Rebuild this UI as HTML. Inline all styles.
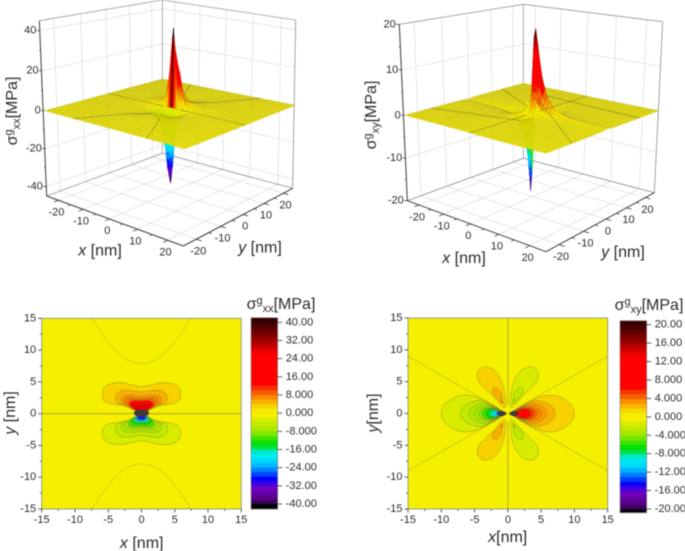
<!DOCTYPE html>
<html lang="en">
<head>
<meta charset="utf-8">
<title>Stress field charts</title>
<style>
html,body{margin:0;padding:0;background:#fff;width:685px;height:551px;overflow:hidden}
svg{display:block;filter:blur(.5px);font-family:"Liberation Sans",sans-serif}
text{fill:#2b2b2b}
</style>
</head>
<body>
<svg id="figure" xmlns="http://www.w3.org/2000/svg" width="685" height="551" viewBox="0 0 685 551">
  <defs>
    <clipPath id="clip-c"><rect x="41.7" y="318.3" width="199.6" height="190.7"/></clipPath>
    <clipPath id="clip-d"><rect x="408" y="318" width="199.7" height="191"/></clipPath>
  </defs>
  <g id="panel-a"></g>
  <g id="panel-b"></g>
  <g id="panel-c"></g>
  <g id="panel-d"></g>

  <text transform="translate(17,111) rotate(-90)" text-anchor="middle" font-size="16">σ<tspan dy="-5" font-size="11">g</tspan><tspan dy="8" font-size="11">xx</tspan><tspan dy="-3">[MPa]</tspan></text>
  <text x="100" y="255.5" text-anchor="middle" font-size="16"><tspan font-style="italic">x</tspan> [nm]</text>
  <text x="260" y="252.5" text-anchor="middle" font-size="16"><tspan font-style="italic">y</tspan> [nm]</text>

  <text transform="translate(376,115) rotate(-90)" text-anchor="middle" font-size="16">σ<tspan dy="-5" font-size="11">g</tspan><tspan dy="8" font-size="11">xy</tspan><tspan dy="-3">[MPa]</tspan></text>
  <text x="464" y="263" text-anchor="middle" font-size="16"><tspan font-style="italic">x</tspan> [nm]</text>
  <text x="623" y="257" text-anchor="middle" font-size="16"><tspan font-style="italic">y</tspan> [nm]</text>

  <text x="141.7" y="548" text-anchor="middle" font-size="16"><tspan font-style="italic">x</tspan> [nm]</text>
  <text transform="translate(15,413) rotate(-90)" text-anchor="middle" font-size="16"><tspan font-style="italic">y</tspan> [nm]</text>
  <text x="281" y="309" text-anchor="middle" font-size="16">σ<tspan dy="-5" font-size="11">g</tspan><tspan dy="8" font-size="11">xx</tspan><tspan dy="-3">[MPa]</tspan></text>

  <text x="507.7" y="542" text-anchor="middle" font-size="16"><tspan font-style="italic">x</tspan>[nm]</text>
  <text transform="translate(378,413) rotate(-90)" text-anchor="middle" font-size="16"><tspan font-style="italic">y</tspan>[nm]</text>
  <text x="649" y="310" text-anchor="middle" font-size="16">σ<tspan dy="-5" font-size="11">g</tspan><tspan dy="8" font-size="11">xy</tspan><tspan dy="-3">[MPa]</tspan></text>
</svg>

<script>
/* ---------- shared tick data ---------- */
const surfaceHorizontalTicks = [-20, -10, 0, 10, 20];
const surfaceXxZTicks = [-40, -20, 0, 20, 40];
const surfaceXyZTicks = [-20, -10, 0, 10, 20];
const contourTicks = [-15, -10, -5, 0, 5, 10, 15];
const colorbarXxLabels = ['40.00','32.00','24.00','16.00','8.000','0.000','-8.000','-16.00','-24.00','-32.00','-40.00'];
const colorbarXxValues = [40, 32, 24, 16, 8, 0, -8, -16, -24, -32, -40];
const colorbarXyLabels = ['20.00','16.00','12.00','8.000','4.000','0.000','-4.000','-8.000','-12.00','-16.00','-20.00'];
const colorbarXyValues = [20, 16, 12, 8, 4, 0, -4, -8, -12, -16, -20];

/* ---------- sigma-xx surface samples (nm, MPa) ---------- */
const surfaceXxGridX = [-25,-12,-7,-4,-2.5,-1.5,-0.75,0,0.75,1.5,2.5,4,7,12,25];
const surfaceXxGridY = [-25,-12,-7,-4,-2.5,-1.5,-0.75,-0.25,0,0.25,0.75,1.5,2.5,4,7,12,25];
const surfaceXxValues = [
 [-.02,0,.03,.05,.06,.06,.06,.06,.06,.06,.06,.05,.03,0,-.02],
 [-.03,-.12,-.15,-.05,.05,.1,.15,.15,.15,.1,.05,-.05,-.15,-.12,-.03],
 [-.03,-.18,-.6,-.95,-.8,-.5,-.35,-.25,-.35,-.5,-.8,-.95,-.6,-.18,-.03],
 [0,-.15,-.8,-2.3,-3,-3,-2.8,-2.6,-2.8,-3,-3,-2.3,-.8,-.15,0],
 [0,-.1,-.7,-3,-6,-9,-10,-10,-10,-9,-6,-3,-.7,-.1,0],
 [0,-.1,-.6,-3,-9,-18,-22,-23,-22,-18,-9,-3,-.6,-.1,0],
 [0,-.1,-.3,-1.5,-7,-20,-32,-37,-32,-20,-7,-1.5,-.3,-.1,0],
 [0,0,-.1,-.5,-2.5,-10,-30,-40,-30,-10,-2.5,-.5,-.1,0,0],
 [0,0,0,0,0,0,0,0,0,0,0,0,0,0,0],
 [0,0,.1,.5,2.5,10,26,41,26,10,2.5,.5,.1,0,0],
 [0,.1,.3,1.5,7,18,27,33,27,18,7,1.5,.3,.1,0],
 [0,.1,.8,4,9,18,22,23,22,18,9,4,.8,.1,0],
 [0,.1,1.2,4,6.5,9,10,10,10,9,6.5,4,1.2,.1,0],
 [0,.15,1.2,3,3.5,3,2.8,2.6,2.8,3,3.5,3,1.2,.15,0],
 [.03,.18,.6,.95,.8,.5,.35,.25,.35,.5,.8,.95,.6,.18,.03],
 [.03,.12,.15,.05,-.05,-.1,-.15,-.15,-.15,-.1,-.05,.05,.15,.12,.03],
 [.02,0,-.03,-.05,-.06,-.06,-.06,-.06,-.06,-.06,-.06,-.05,-.03,0,.02]
];

/* ---------- sigma-xy surface samples (nm, MPa) ---------- */
const surfaceXyGridX = [-25,-12,-7,-4,-2.5,-1.5,-0.75,-0.25,0,0.25,0.75,1.5,2.5,4,7,12,25];
const surfaceXyGridY = [-25,-12,-7,-4,-2.5,-1.5,-0.75,0,0.75,1.5,2.5,4,7,12,25];
const surfaceXyValues = [
 [.02,.05,.05,.04,.03,.02,.01,0,0,0,-.01,-.02,-.03,-.04,-.05,-.05,-.02],
 [-.01,.05,.12,.12,.1,.06,.04,.01,0,-.01,-.04,-.06,-.1,-.12,-.12,-.05,.01],
 [-.03,-.02,.06,.25,.35,.3,.15,.05,0,-.05,-.15,-.3,-.35,-.25,-.06,.02,.03],
 [-.06,-.12,-.12,.05,.4,.7,.5,.2,0,-.2,-.5,-.7,-.4,-.05,.12,.12,.06],
 [-.1,-.2,-.4,-.5,-.2,.5,.9,.7,0,-.7,-.9,-.5,.3,.6,.4,.2,.1],
 [-.15,-.35,-.7,-2,-3,-2.5,-1,.3,0,1,3,7,6.5,3.5,1,.4,.15],
 [-.2,-.5,-1,-3,-5,-9,-10,-5,0,7,15,12,8,4.5,1.4,.5,.2],
 [-.3,-.7,-1.5,-3.5,-6,-12,-18.7,-14,0,17,18.8,15.5,10.5,5.5,2,.7,.3],
 [-.2,-.5,-1,-.3,2.2,.5,-2,-5,0,7,15,12,8,4.5,1.4,.5,.2],
 [-.15,-.35,-.7,-.3,1.5,1.5,.5,.2,0,1,3,7,6.5,3.5,1,.4,.15],
 [-.1,-.2,-.4,-.5,-.2,.5,.9,.7,0,-.7,-.9,-.5,.3,.6,.4,.2,.1],
 [-.06,-.12,-.12,.05,.4,.7,.5,.2,0,-.2,-.5,-.7,-.4,-.05,.12,.12,.06],
 [-.03,-.02,.06,.25,.35,.3,.15,.05,0,-.05,-.15,-.3,-.35,-.25,-.06,.02,.03],
 [-.01,.05,.12,.12,.1,.06,.04,.01,0,-.01,-.04,-.06,-.1,-.12,-.12,-.05,.01],
 [.02,.05,.05,.04,.03,.02,.01,0,0,0,-.01,-.02,-.03,-.04,-.05,-.05,-.02]
];

/* ---------- zero-stress contours (nm) ---------- */
const zeroHyperbolaXx = [[0,7.9],[1.5,8.2],[3,9.1],[5,11.3],[7.4,15],[13,25]];
const zeroAxisXx = [[-25,0],[-3,0],[3,0],[25,0]];
const zeroRayXy = [[1.3,0.78],[15,9],[25,15]];
const zeroAxisXy = [[0,1.4],[0,25]];

/* ---------- sigma-xx contour rings: right half, upper side (nm) ---------- */
const contourXxLevelsUpper = [3, 4.8, 6, 7.2, 8.8, 16, 28];
const contourXxRingsUpper = [
 [[0,4.25],[1.5,4.55],[3.3,4.9],[5.3,4.4],[5.9,3.1],[5.3,1.8],[2.8,1.25],[1,.7],[.25,.1]],
 [[0,3.4],[2,3.7],[3.3,3.5],[3.9,2.6],[3.5,1.6],[2,1.25],[.8,.6],[.2,.1]],
 [[0,2.75],[1.5,2.95],[2.8,2.7],[3,2],[2.5,1.35],[1.5,1],[.7,.4]],
 [[0,2.45],[2,2.6],[2.55,2.1],[2.3,1.25],[1,.6]],
 [[0,2.2],[1.6,2.3],[2.1,1.8],[1.6,.9],[.7,.4]],
 [[0,2],[1.1,2.05],[1.8,1.55],[1.4,.9],[.6,.35]],
 [[0,1.4],[.8,1.5],[1.2,1.1],[.8,.5],[.3,.2]]
];
const contourXxLevelsLower = [-3, -4.8, -6, -7.2, -8.8, -10.5, -13, -16, -19, -24, -28];
const contourXxRingsLower = [
 [[0,4.25],[1.5,4.55],[3.3,4.9],[5.3,4.4],[5.9,3.1],[5.3,1.8],[2.8,1.25],[1,.7],[.25,.1]],
 [[0,3.4],[2,3.7],[3.3,3.5],[3.9,2.6],[3.5,1.6],[2,1.25],[.8,.6],[.2,.1]],
 [[0,2.75],[1.5,2.95],[2.8,2.7],[3,2],[2.5,1.35],[1.5,1],[.7,.4]],
 [[0,2.4],[1.9,2.5],[2.5,2.05],[2.2,1.25],[1,.6]],
 [[0,2.1],[1.5,2.2],[2,1.7],[1.5,.9],[.7,.4]],
 [[0,1.9],[1.3,2],[1.9,1.5],[1.5,.9],[.6,.3]],
 [[0,1.65],[1,1.7],[1.6,1.3],[1.2,.8],[.5,.3]],
 [[0,1.4],[.8,1.45],[1.3,1.05],[1,.7],[.4,.3]],
 [[0,1.2],[.7,1.2],[1.05,.85],[.8,.55],[.35,.25]],
 [[0,1.05],[.5,1.05],[.85,.7],[.35,.3]],
 [[0,.95],[.5,.9],[.6,.6],[.3,.3]]
];
const contourXxCore = [[0,.6],[.7,.55],[1.15,.15],[.8,-.35],[0,-.5]];

/* ---------- sigma-xy contour rings: lobes (upper half, right side, nm) ---------- */
const contourXyLevelsRight = [1.5, 2.4, 3, 3.6, 4.4, 5.5, 8, 13];
const contourXyRingsRight = [
 [[10,0],[9.4,1.5],[7.5,2.7],[5.5,2.8],[3.5,2],[1.8,1],[.5,.15]],
 [[7.1,0],[6.6,1.1],[5.2,1.85],[3.8,1.95],[2.5,1.3],[1.2,.6],[.4,.1]],
 [[5.85,0],[5.4,.9],[4.3,1.45],[3.2,1.5],[2,.95],[1,.45],[.4,.1]],
 [[5.1,0],[4.6,.8],[3.6,1.15],[2.6,1.1],[1.6,.7],[.8,.3]],
 [[4.4,0],[4,.7],[3.1,.95],[2.2,.85],[1.2,.45]],
 [[3.9,0],[3.5,.65],[2.7,.85],[1.9,.7],[1,.3]],
 [[3.4,0],[3,.6],[2.3,.7],[1.5,.5],[.8,.15]],
 [[2,0],[1.7,.35],[1.2,.4],[.7,.1]]
];
const contourXyLevelsLeft = [-1.5, -2.4, -3, -3.6, -4.4, -5.5, -6.6, -7.5, -8.7, -10.5, -14.5];
const contourXyRingsLeft = [
 [[10,0],[9.4,1.5],[7.5,2.7],[5.5,2.8],[3.5,2],[1.8,1],[.5,.15]],
 [[7.1,0],[6.6,1.1],[5.2,1.85],[3.8,1.95],[2.5,1.3],[1.2,.6],[.4,.1]],
 [[5.85,0],[5.4,.9],[4.3,1.45],[3.2,1.5],[2,.95],[1,.45],[.4,.1]],
 [[5.1,0],[4.6,.8],[3.6,1.15],[2.6,1.1],[1.6,.7],[.8,.3]],
 [[4.4,0],[4,.7],[3.1,.95],[2.2,.85],[1.2,.45]],
 [[3.9,0],[3.5,.65],[2.7,.85],[1.9,.7],[1,.3]],
 [[3.4,0],[3,.6],[2.3,.7],[1.5,.5],[.8,.15]],
 [[2.95,0],[2.7,.5],[2.1,.6],[1.4,.4],[.8,.15]],
 [[2.6,0],[2.35,.4],[1.9,.5],[1.2,.3],[.7,.1]],
 [[2.2,0],[1.9,.3],[1.4,.3],[.7,.1]],
 [[1.7,0],[1.4,.25],[.9,.2],[.5,.05]]
];
const contourXyCore = [[1.5,0],[1.2,.38],[.7,.38],[.2,.05]];

/* petal rings, upper-right position (nm); level sign follows the quadrant */
const contourXyPetalLevels = [1.5, 2.4, 3.4];
const contourXyPetals = [
 [[.35,1.4],[.75,4.5],[1.85,6.6],[3.35,7.3],[4.45,6.7],[4.35,5],[2.35,2.9],[.85,1.1]],
 [[.85,1.9],[1,3.2],[1.6,4],[2.2,4],[2.25,3.2],[1.35,2.1]],
 [[.7,1.5],[.8,2],[1.05,2.25],[1.12,1.8]]
];

/* ---------- colour map: normalised stress -> colour ---------- */
const colorStopT = [1.05,.95,.8,.65,.3,.28,.22,.17,.1,.05,0,-.03,-.1,-.2,-.33,-.38,-.42,-.46,-.55,-.6,-.68,-.72,-.82,-.92,-1,-1.004,-1.05];
const colorStopHex = ['#2a0000','#500000','#a00000','#ff0000','#ff0000','#f03000','#f86000','#fb8c00','#f8c000','#f5e400','#f5ef00','#f5ef00','#c8ea00','#a0e800','#00e000','#00e040','#00e8c0','#00f0f0','#00d0ff','#00a0ff','#0040ff','#0000ff','#7000c8','#600090','#300050','#000000','#000000'];

const SVG_NS = 'http://www.w3.org/2000/svg';

function hexToRgb(h){
  return [parseInt(h.slice(1,3),16),parseInt(h.slice(3,5),16),parseInt(h.slice(5,7),16)];
}
function colorForRatio(t){
  if(t>=colorStopT[0]) return colorStopHex[0];
  for(let i=0;i<colorStopT.length-1;i++){
    if(t<=colorStopT[i]&&t>=colorStopT[i+1]){
      const f=(colorStopT[i]-t)/(colorStopT[i]-colorStopT[i+1]);
      const a=hexToRgb(colorStopHex[i]),b=hexToRgb(colorStopHex[i+1]);
      return 'rgb('+Math.round(a[0]+(b[0]-a[0])*f)+','+Math.round(a[1]+(b[1]-a[1])*f)+','+Math.round(a[2]+(b[2]-a[2])*f)+')';
    }
  }
  return colorStopHex[colorStopHex.length-1];
}
function make(tag,attrs,parent){
  const el=document.createElementNS(SVG_NS,tag);
  for(const k in attrs) el.setAttribute(k,attrs[k]);
  parent.appendChild(el);
  return el;
}
function drawLine(parent,a,b,stroke,width,name){
  const el=make('line',{x1:a[0].toFixed(2),y1:a[1].toFixed(2),x2:b[0].toFixed(2),y2:b[1].toFixed(2),stroke:stroke,'stroke-width':width},parent);
  
  
  return el;
}
function drawText(parent,x,y,str,anchor,name){
  const el=make('text',{x:x.toFixed(1),y:y.toFixed(1),'font-size':11,'text-anchor':anchor,'dominant-baseline':'central'},parent);
  el.textContent=str;
  
  
  return el;
}

/* ---------- 3D projection: plane homographies stacked in z ---------- */
function homography(q){
  const [p0,p1,p2,p3]=q;
  const dx1=p1[0]-p2[0],dx2=p3[0]-p2[0],sx=p0[0]-p1[0]+p2[0]-p3[0];
  const dy1=p1[1]-p2[1],dy2=p3[1]-p2[1],sy=p0[1]-p1[1]+p2[1]-p3[1];
  const den=dx1*dy2-dx2*dy1;
  const g=(sx*dy2-dx2*sy)/den,h=(dx1*sy-sx*dy1)/den;
  const a=p1[0]-p0[0]+g*p1[0],b=p3[0]-p0[0]+h*p3[0],c=p0[0];
  const d=p1[1]-p0[1]+g*p1[1],e=p3[1]-p0[1]+h*p3[1],f=p0[1];
  return function(u,v){
    const w=g*u+h*v+1;
    return [(a*u+b*v+c)/w,(d*u+e*v+f)/w];
  };
}
function scaleCorners(c,ox){
  return c.map(function(p){return [p[0]/3+ox,p[1]/3];});
}
function makeProjector(box,zMax){
  const top=homography(scaleCorners(box.top,box.ox));
  const mid=homography(scaleCorners(box.mid,box.ox));
  const floor=homography(scaleCorners(box.floor,box.ox));
  return function(x,y,z){
    const u=(x+25)/50,v=(y+25)/50;
    const m=mid(u,v),o=z>=0?top(u,v):floor(u,v);
    const t=Math.abs(z)/zMax;
    return [m[0]+(o[0]-m[0])*t,m[1]+(o[1]-m[1])*t];
  };
}
function sampleGrid(gx,gy,vals,x,y){
  let i=0,j=0;
  while(i<gx.length-2&&x>gx[i+1]) i++;
  while(j<gy.length-2&&y>gy[j+1]) j++;
  const fx=(x-gx[i])/(gx[i+1]-gx[i]),fy=(y-gy[j])/(gy[j+1]-gy[j]);
  return (vals[j][i]*(1-fx)+vals[j][i+1]*fx)*(1-fy)+(vals[j+1][i]*(1-fx)+vals[j+1][i+1]*fx)*fy;
}
function polygonPoints(list){
  return list.map(function(p){return p[0].toFixed(2)+','+p[1].toFixed(2);}).join(' ');
}
function facetColor(zs,colorMax){
  let peak=zs[0];
  zs.forEach(function(v){if(Math.abs(v)>Math.abs(peak)) peak=v;});
  const mean=(zs[0]+zs[1]+zs[2]+zs[3])/4;
  return colorForRatio((Math.abs(peak)>.92*colorMax?peak:mean)/colorMax);
}

function drawSurfacePanel(cfg){
  const root=document.getElementById(cfg.id);
  const P=makeProjector(cfg.box,cfg.zMax);
  const Z=cfg.zMax;
  const grid='#dcdcdc',edge='#9a9a9a',axis='#3c3c3c';

  cfg.hTicks.forEach(function(t){
    drawLine(root,P(t,-25,-Z),P(t,25,-Z),grid,.7,'floor-gridline-x');
    drawLine(root,P(-25,t,-Z),P(25,t,-Z),grid,.7,'floor-gridline-y');
    drawLine(root,P(-25,t,-Z),P(-25,t,Z),grid,.7,'left-wall-gridline');
    drawLine(root,P(t,25,-Z),P(t,25,Z),grid,.7,'right-wall-gridline');
  });
  cfg.zTicks.forEach(function(t){
    drawLine(root,P(-25,-25,t),P(-25,25,t),grid,.7,'left-wall-gridline-z');
    drawLine(root,P(-25,25,t),P(25,25,t),grid,.7,'right-wall-gridline-z');
  });

  drawLine(root,P(-25,-25,Z),P(-25,25,Z),edge,.8,'box-edge-top-left');
  drawLine(root,P(-25,25,Z),P(25,25,Z),edge,.8,'box-edge-top-right');
  drawLine(root,P(-25,25,-Z),P(-25,25,Z),edge,.8,'box-edge-back');
  drawLine(root,P(25,25,-Z),P(25,25,Z),edge,.9,'box-edge-right');
  drawLine(root,P(-25,-25,-Z),P(-25,25,-Z),edge,.9,'box-edge-floor-left');
  drawLine(root,P(-25,25,-Z),P(25,25,-Z),edge,.9,'box-edge-floor-right');

  const rawZ=function(a,b){return sampleGrid(cfg.gx,cfg.gy,cfg.vals,a,b);};
  const viewZ=function(a,b){return Math.max(rawZ(a,b),cfg.wellClamp);};

  /* downward spike first: the sheet painted next hides its upper part */
  const well=make('g',{},root);
  
  
  for(let a=-3.5;a<3.5;a+=.25){
    for(let b=3.25;b>=-3.5;b-=.25){
      const zs=[rawZ(a,b),rawZ(a+.25,b),rawZ(a+.25,b+.25),rawZ(a,b+.25)];
      if(Math.min.apply(null,zs)<cfg.wellClamp){
        const fill=facetColor(zs,cfg.colorMax);
        const f=make('polygon',{points:polygonPoints([P(a,b,zs[0]),P(a+.25,b,zs[1]),P(a+.25,b+.25,zs[2]),P(a,b+.25,zs[3])]),fill:fill,stroke:fill,'stroke-width':.3},well);
        
        
      }
    }
  }

  /* surface, painted back to front */
  const surface=make('g',{},root);
  
  
  const meshStroke='rgba(120,105,30,.3)';
  for(let x=-25;x<25;x++){
    for(let y=24;y>=-25;y--){
      const cx=x+.5,cy=y+.5;
      const corners=[[x,y],[x+1,y],[x+1,y+1],[x,y+1]].map(function(c){return P(c[0],c[1],viewZ(c[0],c[1]));});
      if(Math.abs(cx)<3.5&&Math.abs(cy)<3.5){
        const n=4,s=1/n;
        for(let i=0;i<n;i++){
          for(let j=n-1;j>=0;j--){
            const a=x+i*s,b=y+j*s;
            const zs=[viewZ(a,b),viewZ(a+s,b),viewZ(a+s,b+s),viewZ(a,b+s)];
            const fill=facetColor(zs,cfg.colorMax);
            const sub=make('polygon',{points:polygonPoints([P(a,b,zs[0]),P(a+s,b,zs[1]),P(a+s,b+s,zs[2]),P(a,b+s,zs[3])]),fill:fill,stroke:fill,'stroke-width':.3},surface);
            
            
          }
        }
        const outline=make('polygon',{points:polygonPoints(corners),fill:'none',stroke:'rgba(110,100,30,.28)','stroke-width':.3},surface);
        
        
      }else{
        const fill=colorForRatio(viewZ(cx,cy)/cfg.colorMax);
        const cell=make('polygon',{points:polygonPoints(corners),fill:fill,stroke:meshStroke,'stroke-width':.4},surface);
        
        
      }
    }
  }

  /* zero contours lying on the surface */
  cfg.zeroLines.forEach(function(line){
    const pts=line.map(function(p){return P(p[0],p[1],viewZ(p[0],p[1]));});
    const el=make('polyline',{points:polygonPoints(pts),fill:'none',stroke:'rgba(70,70,60,.42)','stroke-width':.8},root);
    
    
  });

  /* axes */
  drawLine(root,P(-25,-25,-Z),P(-25,-25,Z),axis,1,'z-axis');
  drawLine(root,P(-25,-25,-Z),P(25,-25,-Z),axis,1,'x-axis');
  drawLine(root,P(25,-25,-Z),P(25,25,-Z),axis,1,'y-axis');

  cfg.zTicks.forEach(function(t,i){
    const p=P(-25,-25,t);
    drawLine(root,p,[p[0]-3,p[1]],axis,.8,'z-tick');
    drawText(root,p[0]-3.5,p[1],String(t),'end','z-tick-label');
    if(i<cfg.zTicks.length-1){
      const m=P(-25,-25,(t+cfg.zTicks[i+1])/2);
      drawLine(root,m,[m[0]-1.8,m[1]],axis,.7,'z-minor-tick');
    }
  });
  cfg.hTicks.forEach(function(t,i){
    const a=P(t,-25,-Z);
    drawLine(root,a,P(t,-26.6,-Z),axis,.8,'x-tick');
    drawText(root,a[0]-2,a[1]+12.3,String(t),'middle','x-tick-label');
    const b=P(25,t,-Z);
    drawLine(root,b,P(26.6,t,-Z),axis,.8,'y-tick');
    drawText(root,b[0]+2,b[1]+12.3,String(t),'middle','y-tick-label');
    if(i<cfg.hTicks.length-1){
      const mid=(t+cfg.hTicks[i+1])/2;
      drawLine(root,P(mid,-25,-Z),P(mid,-26,-Z),axis,.7,'x-minor-tick');
      drawLine(root,P(25,mid,-Z),P(26,mid,-Z),axis,.7,'y-minor-tick');
    }
  });
}

/* ---------- 2D contour helpers ---------- */
function plotScales(p){
  return {
    x:function(v){return p.l+(v+15)/30*(p.r-p.l);},
    y:function(v){return p.b-(v+15)/30*(p.b-p.t);}
  };
}
function smoothClosedPath(pts,S){
  const q=pts.map(function(p){return [S.x(p[0]),S.y(p[1])];});
  const n=q.length;
  let d='M'+q[0][0].toFixed(2)+' '+q[0][1].toFixed(2);
  for(let i=0;i<n;i++){
    const a=q[(i-1+n)%n],b=q[i],c=q[(i+1)%n],e=q[(i+2)%n];
    d+='C'+(b[0]+(c[0]-a[0])/6).toFixed(2)+' '+(b[1]+(c[1]-a[1])/6).toFixed(2)+' '+(c[0]-(e[0]-b[0])/6).toFixed(2)+' '+(c[1]-(e[1]-b[1])/6).toFixed(2)+' '+c[0].toFixed(2)+' '+c[1].toFixed(2);
  }
  return d+'Z';
}
function smoothOpenPath(pts,S){
  const q=pts.map(function(p){return [S.x(p[0]),S.y(p[1])];});
  let d='M'+q[0][0].toFixed(2)+' '+q[0][1].toFixed(2);
  for(let i=0;i<q.length-1;i++){
    const a=q[Math.max(i-1,0)],b=q[i],c=q[i+1],e=q[Math.min(i+2,q.length-1)];
    d+='C'+(b[0]+(c[0]-a[0])/6).toFixed(2)+' '+(b[1]+(c[1]-a[1])/6).toFixed(2)+' '+(c[0]-(e[0]-b[0])/6).toFixed(2)+' '+(c[1]-(e[1]-b[1])/6).toFixed(2)+' '+c[0].toFixed(2)+' '+c[1].toFixed(2);
  }
  return d;
}
function mirrorAcrossY(half){
  /* half runs from x=0 side to the centre; reflect in x to close the loop */
  const back=half.slice().reverse().filter(function(p){return p[0]!==0;}).map(function(p){return [-p[0],p[1]];});
  return half.concat(back);
}
function mirrorAcrossX(half){
  const back=half.slice().reverse().filter(function(p){return p[1]!==0;}).map(function(p){return [p[0],-p[1]];});
  return half.concat(back);
}
function drawRing(parent,pts,S,fill){
  const el=make('path',{d:smoothClosedPath(pts,S),fill:fill,stroke:'rgba(105,100,45,.65)','stroke-width':.5},parent);
  
  
  return el;
}
function drawPlotFrame(root,p,S,tickAxisName){
  const frame=make('rect',{x:p.l,y:p.t,width:p.r-p.l,height:p.b-p.t,fill:'none',stroke:'#7f8790','stroke-width':.8},root);
  
  
  contourTicks.forEach(function(t,i){
    drawLine(root,[S.x(t),p.b],[S.x(t),p.b+3.5],'#333',.8,'x-tick');
    drawLine(root,[p.l,S.y(t)],[p.l-3.5,S.y(t)],'#333',.8,'y-tick');
    drawText(root,S.x(t),p.b+11,String(t),'middle','x-tick-label');
    drawText(root,p.l-5.5,S.y(t),String(t),'end','y-tick-label');
    if(i<contourTicks.length-1){
      const m=(t+contourTicks[i+1])/2;
      drawLine(root,[S.x(m),p.b],[S.x(m),p.b+2],'#333',.7,'x-minor-tick');
      drawLine(root,[p.l,S.y(m)],[p.l-2,S.y(m)],'#333',.7,'y-minor-tick');
    }
  });
}
function drawColorbar(root,bar,values,labels,vMax,step){
  const yOf=function(v){return bar.y40+(vMax-v)*(bar.yMinus40-bar.y40)/(2*vMax);};
  const g=make('g',{},root);
  
  
  const topValue=vMax+(bar.y40-bar.top)/(bar.yMinus40-bar.y40)*2*vMax;
  const botValue=-vMax-(bar.bottom-bar.yMinus40)/(bar.yMinus40-bar.y40)*2*vMax;
  for(let v=topValue;v>botValue;v-=step){
    const y0=yOf(v),y1=Math.min(yOf(v-step),bar.bottom);
    const rect=make('rect',{x:bar.x,y:y0.toFixed(2),width:bar.w,height:(y1-y0+.4).toFixed(2),fill:colorForRatio((v-step/2)/vMax)},g);
    
    
  }
  const border=make('rect',{x:bar.x,y:bar.top,width:bar.w,height:bar.bottom-bar.top,fill:'none',stroke:'#8a8a8a','stroke-width':.7},g);
  
  
  values.forEach(function(v,i){
    const y=yOf(v);
    drawLine(g,[bar.x+bar.w,y],[bar.x+bar.w+4.5,y],'#333',.8,'colorbar-tick');
    drawText(g,bar.x+bar.w+8,y,labels[i],'start','colorbar-tick-label');
  });
}

/* ---------- panels a, b ---------- */
drawSurfacePanel({
  id:'panel-a',zMax:45,colorMax:40,wellClamp:-4,gx:surfaceXxGridX,gy:surfaceXxGridY,vals:surfaceXxValues,
  hTicks:surfaceHorizontalTicks,zTicks:surfaceXxZTicks,
  box:{ox:0,
    top:[[118,62],[560,140],[887,60],[487,0]],
    mid:[[133,332],[555,447],[887,316],[487,237]],
    floor:[[140,588],[550,738],[878,565],[487,460]]},
  zeroLines:[
    zeroAxisXx.slice(0,2),
    zeroAxisXx.slice(2,4),
    zeroHyperbolaXx.slice().reverse().map(function(p){return [-p[0],p[1]];}).concat(zeroHyperbolaXx),
    zeroHyperbolaXx.slice().reverse().map(function(p){return [-p[0],-p[1]];}).concat(zeroHyperbolaXx.map(function(p){return [p[0],-p[1]];}))
  ]
});
drawSurfacePanel({
  id:'panel-b',zMax:20,colorMax:20,wellClamp:-3,gx:surfaceXyGridX,gy:surfaceXyGridY,vals:surfaceXyValues,
  hTicks:surfaceHorizontalTicks,zTicks:surfaceXyZTicks,
  box:{ox:345,
    top:[[163,73],[610,150],[953,65],[535,13]],
    mid:[[178,346],[603,460],[942,332],[535,250]],
    floor:[[187,602],[603,755],[928,578],[535,475]]},
  zeroLines:[
    [[3,1.8],[25,15]],
    [[-3,-1.8],[-25,-15]],
    [[3,-1.8],[25,-15]],
    [[-3,1.8],[-25,15]],
    [[0,3],[0,25]],
    [[0,-3],[0,-25]]
  ]
});

/* ---------- panel c ---------- */
(function(){
  const root=document.getElementById('panel-c');
  const p={l:41.7,r:241.3,t:318.3,b:509};
  const S=plotScales(p);
  const bg=make('rect',{x:p.l,y:p.t,width:p.r-p.l,height:p.b-p.t,fill:'#f5ef00'},root);
  
  
  const g=make('g',{'clip-path':'url(#clip-c)'},root);
  
  

  contourXxRingsLower.forEach(function(half,i){
    const mirrored=half.map(function(q){return [q[0],-q[1]];});
    drawRing(g,mirrorAcrossY(mirrored),S,colorForRatio(contourXxLevelsLower[i]/40));
  });
  contourXxRingsUpper.forEach(function(half,i){
    drawRing(g,mirrorAcrossY(half),S,colorForRatio(contourXxLevelsUpper[i]/40));
  });
  const core=make('path',{d:smoothClosedPath(mirrorAcrossY(contourXxCore),S),fill:'#3f3a3c',stroke:'none'},g);
  
  

  drawLine(g,[S.x(-15),S.y(0)],[S.x(-1.1),S.y(0)],'#b8ae2e',1.1,'zero-contour-axis');
  drawLine(g,[S.x(1.1),S.y(0)],[S.x(15),S.y(0)],'#b8ae2e',1.1,'zero-contour-axis');
  [1,-1].forEach(function(sign){
    const curve=zeroHyperbolaXx.slice().reverse().map(function(q){return [-q[0],sign*q[1]];}).concat(zeroHyperbolaXx.slice(1).map(function(q){return [q[0],sign*q[1]];}));
    const el=make('path',{d:smoothOpenPath(curve,S),fill:'none',stroke:'rgba(105,100,45,.5)','stroke-width':.5},g);
    
    
  });
  drawPlotFrame(root,p,S,'contour-xx');
  drawColorbar(root,{x:251,w:26.7,top:317.7,bottom:509,y40:322.3,yMinus40:504},colorbarXxValues,colorbarXxLabels,40,2);
})();

/* ---------- panel d ---------- */
(function(){
  const root=document.getElementById('panel-d');
  const p={l:408,r:607.7,t:318,b:509};
  const S=plotScales(p);
  const bg=make('rect',{x:p.l,y:p.t,width:p.r-p.l,height:p.b-p.t,fill:'#f5ef00'},root);
  
  
  const g=make('g',{'clip-path':'url(#clip-d)'},root);
  
  

  [[1,1,-1],[-1,1,1],[-1,-1,1],[1,-1,-1]].forEach(function(q){
    contourXyPetals.forEach(function(ring,i){
      const pts=ring.map(function(v){return [q[0]*v[0],q[1]*v[1]];});
      drawRing(g,pts,S,colorForRatio(q[2]*contourXyPetalLevels[i]/20));
    });
  });
  contourXyRingsRight.forEach(function(half,i){
    drawRing(g,mirrorAcrossX(half),S,colorForRatio(contourXyLevelsRight[i]/20));
  });
  contourXyRingsLeft.forEach(function(half,i){
    const pts=mirrorAcrossX(half).map(function(v){return [-v[0],v[1]];});
    drawRing(g,pts,S,colorForRatio(contourXyLevelsLeft[i]/20));
  });
  [1,-1].forEach(function(sign){
    const el=make('path',{d:smoothClosedPath(mirrorAcrossX(contourXyCore).map(function(v){return [sign*v[0],v[1]];}),S),fill:'#3f3a3c',stroke:'none'},g);
    
    
  });
  [[1,1],[1,-1],[-1,1],[-1,-1]].forEach(function(q){
    drawLine(g,[S.x(q[0]*zeroRayXy[0][0]),S.y(q[1]*zeroRayXy[0][1])],[S.x(q[0]*zeroRayXy[1][0]),S.y(q[1]*zeroRayXy[1][1])],'rgba(105,100,45,.6)',.5,'zero-contour-ray');
  });
  [1,-1].forEach(function(sign){
    drawLine(g,[S.x(zeroAxisXy[0][0]),S.y(sign*zeroAxisXy[0][1])],[S.x(zeroAxisXy[1][0]),S.y(sign*zeroAxisXy[1][1])],'#b8ae2e',1,'zero-contour-axis');
  });
  drawPlotFrame(root,p,S,'contour-xy');
  drawColorbar(root,{x:620,w:26.7,top:320.7,bottom:512.7,y40:324.7,yMinus40:509},colorbarXyValues,colorbarXyLabels,20,1);
})();
</script>
</body>
</html>
